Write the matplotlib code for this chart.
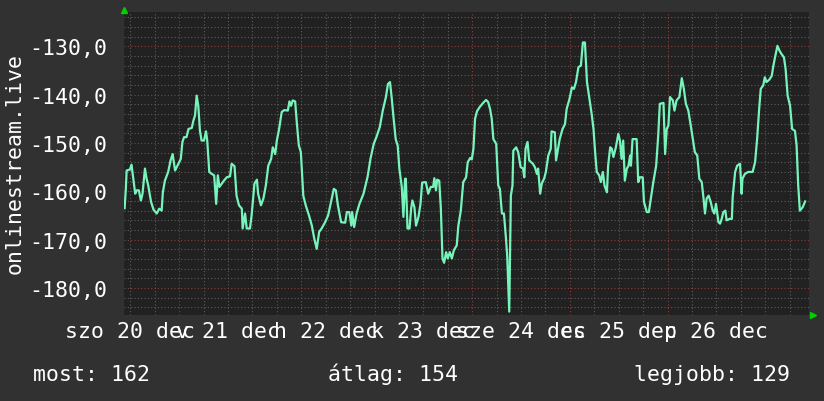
import matplotlib
matplotlib.use("Agg")
import matplotlib.pyplot as plt
from matplotlib.ticker import MultipleLocator, FuncFormatter

# hours since 20 dec 00:00, and the measured value
hours = [
    10.6, 10.9, 11.1, 11.9, 12.3, 12.7, 13.2, 13.6, 14.1, 14.6,
    15.0, 15.6, 16.0, 16.4, 17.1, 17.7, 18.5, 19.1, 19.7, 20.0,
    20.5, 21.3, 21.9, 22.4, 23.0, 23.8, 24.4, 24.8, 25.2, 25.8,
    26.3, 27.1, 27.5, 27.9, 28.3, 28.7, 29.1, 29.5, 30.1, 30.6,
    30.9, 31.4, 32.0, 32.6, 33.1, 33.5, 33.9, 34.5, 35.0, 35.7,
    36.5, 36.9, 37.6, 38.1, 38.7, 39.4, 39.6, 40.2, 40.6, 41.4,
    41.8, 42.5, 43.1, 43.4, 44.1, 44.7, 45.3, 45.9, 46.6, 47.0,
    47.6, 48.0, 48.5, 49.2, 49.8, 50.7, 51.1, 51.5, 51.9, 52.5,
    52.9, 53.4, 53.9, 54.5, 55.1, 55.9, 56.6, 57.2, 57.8, 58.4,
    59.0, 59.8, 60.6, 61.3, 62.0, 62.5, 63.0, 63.8, 64.8, 65.2,
    65.8, 66.3, 66.5, 67.0, 67.6, 68.3, 69.3, 70.3, 71.0, 71.8,
    72.5, 73.3, 74.0, 74.8, 75.3, 75.8, 76.2, 76.7, 77.2, 77.7,
    78.1, 78.7, 79.1, 79.5, 79.7, 80.1, 80.6, 81.0, 81.3, 81.8,
    82.2, 82.8, 83.3, 83.7, 84.6, 85.2, 85.8, 86.4, 86.7, 87.1,
    87.4, 87.9, 88.3, 88.7, 89.1, 89.6, 90.0, 90.5, 91.0, 91.5,
    92.2, 92.6, 93.2, 93.8, 94.5, 94.9, 95.5, 95.9, 96.3, 96.7,
    97.2, 97.9, 98.7, 99.4, 99.9, 100.4, 100.8, 101.2, 101.9, 102.4,
    102.8, 103.3, 103.8, 104.3, 104.6, 105.1, 105.5, 105.9, 106.1, 106.8,
    107.3, 107.9, 108.5, 108.8, 109.1, 109.6, 110.0, 110.9, 111.4, 111.9,
    112.2, 112.7, 113.1, 113.7, 114.1, 114.7, 115.3, 115.5, 116.3, 116.6,
    117.1, 117.5, 118.2, 118.8, 119.2, 119.9, 120.5, 121.0, 121.5, 122.1,
    122.7, 123.2, 123.7, 124.2, 124.8, 125.4, 125.8, 126.2, 126.6, 127.2,
    127.6, 128.1, 128.5, 129.1, 129.4, 129.9, 130.3, 130.7, 131.3, 131.9,
    132.3, 132.7, 133.1, 133.5, 134.0, 134.4, 134.8, 135.0, 135.4, 136.4,
    136.8, 137.2, 137.9, 138.2, 138.9, 139.4, 139.9, 140.5, 141.2, 141.7,
    142.1, 143.0, 143.4, 143.8, 144.2, 144.6, 145.3, 145.7, 146.2, 146.9,
    147.5, 148.0, 148.5, 149.1, 149.7, 150.2, 150.7, 151.3, 151.8, 152.4,
    152.8, 153.2, 153.6, 154.1, 154.6, 155.1, 155.5, 155.9, 156.5, 156.9,
    157.3, 157.7, 158.2, 158.5, 159.3, 159.8, 160.0, 160.6, 161.1, 161.8,
    162.2, 162.4, 163.0, 163.8, 164.9, 165.5, 166.0, 166.5, 166.9, 167.5,
    167.9, 168.3, 169.0, 169.6, 170.0, 170.4, 171.0, 171.5, 172.0, 172.6,
    173.0, 173.5, 174.1, 174.6, 175.3, 175.7, 176.1, 176.5, 177.2, 177.8,
]
values = [
    -163.5, -159.5, -155.7, -155.5, -154.5, -157.1, -160.5, -159.8, -159.8, -161.9,
    -160.5, -155.3, -157.4, -158.8, -162.2, -163.8, -164.6, -163.6, -164.0, -160.2,
    -157.8, -156.0, -153.6, -152.3, -155.7, -154.3, -153.3, -149.8, -148.8, -148.8,
    -147.1, -146.9, -145.4, -144.3, -140.2, -142.3, -147.4, -149.5, -149.5, -147.6,
    -149.5, -156.0, -156.4, -156.7, -162.6, -156.7, -159.1, -158.4, -157.8, -157.1,
    -156.9, -154.3, -154.8, -160.9, -162.9, -163.6, -167.7, -164.6, -167.7, -167.7,
    -165.0, -158.4, -157.6, -160.5, -162.9, -161.5, -158.8, -154.7, -153.3, -150.9,
    -152.3, -149.5, -147.4, -143.6, -143.2, -143.3, -141.4, -142.3, -141.2, -141.4,
    -145.7, -150.5, -151.9, -160.9, -162.9, -165.0, -167.1, -169.8, -171.9, -168.4,
    -167.7, -166.5, -165.0, -162.2, -159.5, -159.8, -162.9, -166.4, -166.5, -164.3,
    -164.3, -167.1, -164.3, -167.4, -164.6, -162.6, -160.5, -157.0, -153.3, -150.2,
    -148.7, -146.7, -143.4, -140.5, -137.8, -137.4, -140.5, -145.0, -149.2, -150.6,
    -155.3, -159.1, -165.3, -157.4, -157.4, -167.7, -167.7, -163.6, -161.9, -163.3,
    -167.1, -165.3, -162.6, -158.2, -158.1, -160.5, -159.1, -159.1, -157.3, -159.8,
    -157.6, -157.8, -163.6, -173.9, -174.8, -172.6, -173.9, -172.6, -173.9, -172.2,
    -171.2, -167.1, -164.0, -158.1, -157.1, -154.0, -153.1, -153.4, -151.2, -145.0,
    -143.4, -142.5, -141.7, -141.1, -141.5, -143.0, -145.0, -149.2, -150.2, -158.8,
    -159.5, -164.6, -164.6, -169.8, -173.3, -184.9, -160.9, -158.8, -151.6, -150.9,
    -151.9, -155.0, -155.3, -157.1, -151.2, -149.8, -153.6, -154.3, -155.0, -156.4,
    -155.3, -160.5, -158.4, -157.3, -156.0, -152.6, -151.2, -147.6, -147.8, -153.6,
    -151.2, -149.2, -147.1, -146.1, -143.0, -140.9, -138.5, -138.8, -137.4, -134.3,
    -134.0, -129.2, -129.2, -137.4, -140.9, -144.3, -147.1, -151.9, -156.0, -156.7,
    -158.1, -156.0, -158.8, -160.2, -154.7, -150.9, -151.2, -152.9, -150.9, -148.1,
    -149.5, -153.3, -149.5, -157.8, -155.3, -154.7, -152.6, -154.7, -149.2, -149.2,
    -158.1, -157.1, -157.1, -162.2, -164.3, -164.3, -161.5, -158.1, -154.7, -148.5,
    -141.9, -141.7, -152.3, -147.1, -146.4, -140.5, -141.2, -143.3, -141.2, -140.5,
    -136.6, -138.8, -141.9, -143.3, -146.4, -149.2, -151.9, -152.6, -157.4, -158.1,
    -161.2, -164.6, -161.5, -160.9, -162.2, -164.0, -164.6, -162.6, -166.4, -166.7,
    -165.7, -164.3, -164.0, -166.0, -165.7, -165.7, -161.2, -156.0, -154.7, -154.3,
    -160.5, -157.4, -156.4, -156.0, -156.0, -154.0, -149.2, -143.0, -138.8, -138.1,
    -136.4, -137.4, -136.9, -136.1, -134.0, -132.3, -129.9, -130.9, -131.6, -132.3,
    -134.7, -140.2, -142.3, -147.1, -147.5, -150.5, -158.8, -164.0, -163.3, -162.1,
]

day_noons = [12, 36, 60, 84, 108, 132, 156]
day_labels = ["szo 20 dec", "v 21 dec", "h 22 dec", "k 23 dec",
              "sze 24 dec", "cs 25 dec", "p 26 dec"]
stats = ["most: 162", "átlag: 154", "legjobb: 129"]

bg = "#313131"
canvas = "#212121"
line_col = "#76f4bc"
mono = "DejaVu Sans Mono"
fs = 15.5

fig = plt.figure(figsize=(8.24, 4.02), dpi=100, facecolor=bg)
ax = fig.add_axes([124 / 824, 1 - 316 / 402, 685 / 824, 303 / 402])
ax.set_facecolor(canvas)
for s in ax.spines.values():
    s.set_visible(False)

ax.set_xlim(10.45, 178.75)
ax.set_ylim(-185.6, -122.9)

# grid: grey every 2 units / 6 h, red every 10 units / midnight
ax.yaxis.set_major_locator(MultipleLocator(10))
ax.yaxis.set_minor_locator(MultipleLocator(2))
ax.grid(which="minor", axis="y", color="#5c5c5c", linestyle=(0, (1, 2)), lw=0.8)
ax.grid(which="major", axis="y", color="#8c3c3c", linestyle=(0, (1, 2)), lw=0.8)
for h in range(12, 175, 6):
    c = "#8c3c3c" if h % 24 == 0 else "#5c5c5c"
    ax.axvline(h, color=c, linestyle=(0, (1, 2)), lw=0.8, zorder=0.5)
ax.set_axisbelow(True)

ax.plot(hours, values, color=line_col, lw=1.6, zorder=3)

ax.yaxis.set_major_formatter(FuncFormatter(lambda v, p: f"{v:.1f}".replace(".", ",")))
ax.tick_params(axis="y", which="both", length=0, pad=12, labelcolor="white", labelsize=fs)
ax.set_xticks(day_noons, day_labels)
ax.tick_params(axis="x", length=0, pad=4, labelcolor="white", labelsize=fs)
for lab in ax.get_xticklabels() + ax.get_yticklabels():
    lab.set_family(mono)

# green axis arrows
ax.plot([0], [1.008], marker="^", color="#00d000", ms=4.5, transform=ax.transAxes, clip_on=False)
ax.plot([1.006], [0], marker=">", color="#00d000", ms=4.5, transform=ax.transAxes, clip_on=False)

fig.text(15 / 824, 1 - 164 / 402, "onlinestream.live", rotation=90, color="white",
         family=mono, fontsize=fs, ha="center", va="center")
fig.text(33 / 824, 1 - 381 / 402, stats[0], color="white", family=mono, fontsize=fs,
         ha="left", va="baseline")
fig.text(328 / 824, 1 - 381 / 402, stats[1], color="white", family=mono, fontsize=fs,
         ha="left", va="baseline")
fig.text(790 / 824, 1 - 381 / 402, stats[2], color="white", family=mono, fontsize=fs,
         ha="right", va="baseline")

fig.savefig("out.png", dpi=100, facecolor=bg)
